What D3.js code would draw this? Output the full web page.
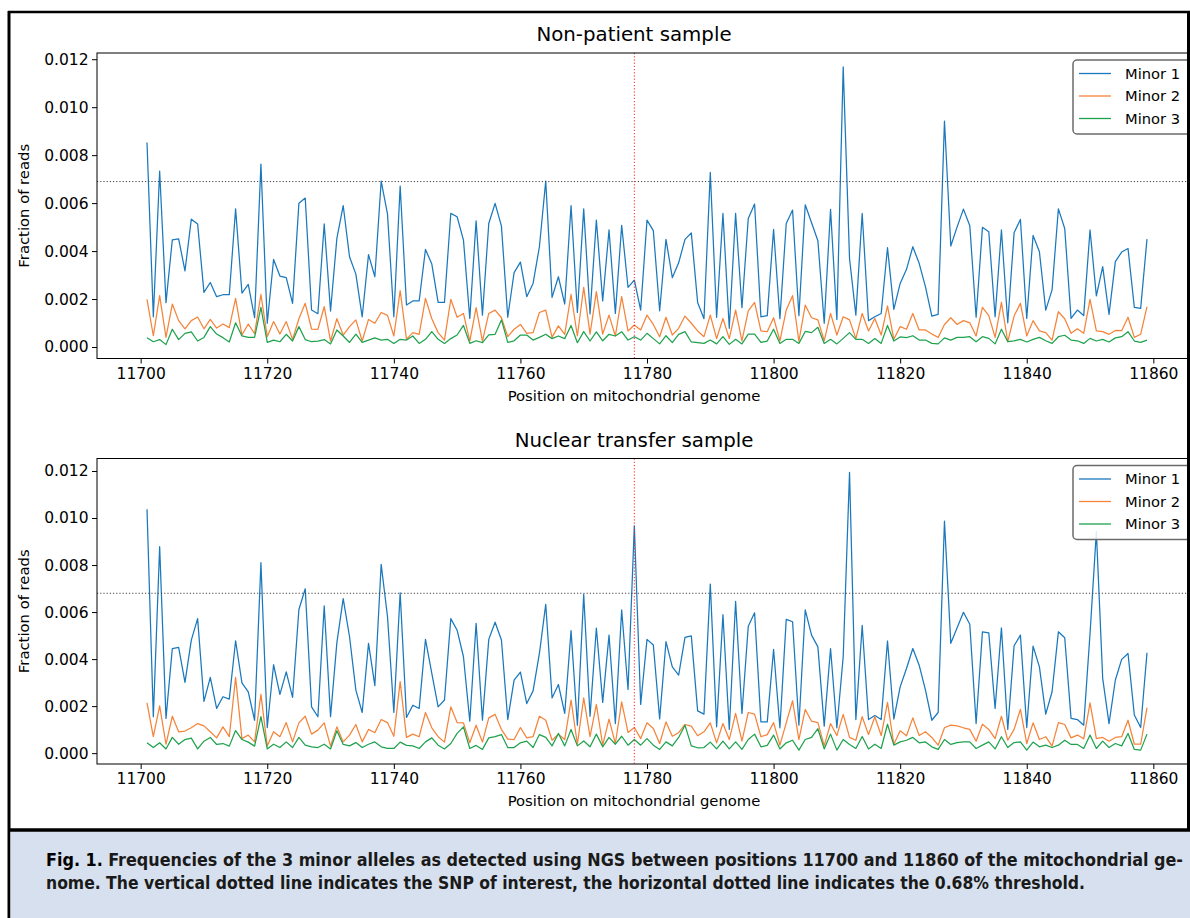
<!DOCTYPE html>
<html><head><meta charset="utf-8">
<script src="https://cdn.jsdelivr.net/npm/d3@7"></script>
<style>body{margin:0;background:#fff}svg{display:block}</style>
</head><body>
<svg id="c" width="1190" height="918"></svg>
<script>
// ---------- DATA (fraction of reads, stored in per-mille: value / 1000) ----------
const firstPosition = 11701, lastPosition = 11859;
const snpPosition = 11778;
const panelTitles = ["Non-patient sample", "Nuclear transfer sample"];
const seriesNames = ["Minor 1", "Minor 2", "Minor 3"];
const thresholdsPerMille = [6.9, 6.8];
const xTickValues = [11700, 11720, 11740, 11760, 11780, 11800, 11820, 11840, 11860];
const yTickValues = [0, 0.002, 0.004, 0.006, 0.008, 0.010, 0.012];

const topMinor1 = [8.53,1.26,7.33,1.85,4.47,4.51,3.17,5.33,5.13,2.28,2.69,2.10,2.18,2.18,5.76,2.25,2.61,1.22,7.63,0.99,3.65,2.96,2.89,1.82,5.99,6.21,1.54,1.39,5.13,1.50,4.53,5.90,3.76,
 3.04,1.26,3.85,2.93,6.92,5.54,1.26,6.71,1.75,1.92,1.92,4.07,3.46,1.86,1.86,5.57,5.43,4.46,1.19,5.26,1.33,5.15,5.99,5.04,1.24,3.10,3.54,2.10,2.65,4.18,6.92,
 2.07,2.93,1.79,5.90,1.44,5.76,1.38,5.29,1.92,4.88,1.40,5.07,2.49,2.79,1.54,5.29,4.85,1.51,4.49,2.89,3.51,4.49,4.76,1.86,1.18,7.28,1.24,5.57,0.78,5.57,1.64,5.36,
 5.96,1.26,1.31,4.90,1.18,5.15,5.71,1.31,5.93,5.18,4.43,0.99,5.74,1.15,11.68,3.69,1.33,5.57,1.10,1.26,1.40,4.14,1.57,2.65,3.24,4.18,3.49,2.51,1.29,1.36,9.42,
 4.21,5.01,5.75,5.06,1.24,4.99,4.81,1.26,4.88,1.01,4.76,5.32,1.19,4.65,3.97,1.54,2.38,5.76,4.94,1.19,1.54,1.31,4.88,2.13,3.35,1.36,3.56,3.96,4.11,1.65,1.61,4.50];
const topMinor2 = [1.99,0.47,2.14,0.40,1.79,1.10,0.76,1.10,1.25,0.76,1.15,0.79,0.96,0.81,2.03,0.50,0.96,0.56,2.19,0.43,1.06,0.54,1.06,0.32,1.18,1.82,0.75,0.74,1.68,0.25,1.18,0.50,0.85,
 1.13,0.25,1.15,0.99,1.44,1.32,0.46,2.35,0.33,0.60,0.53,2.03,1.18,0.60,0.29,1.99,1.24,1.40,0.25,1.64,0.25,1.40,1.54,1.22,0.43,0.74,0.94,0.57,0.60,1.44,1.54,
 0.40,0.88,0.53,2.19,0.46,2.49,0.54,2.31,0.54,1.33,0.46,2.10,0.67,0.92,0.71,1.33,0.94,0.43,1.24,0.50,0.78,1.29,0.99,0.67,0.43,1.33,0.35,1.19,0.35,1.54,0.26,1.51,
 1.86,0.67,0.64,1.22,0.26,1.54,2.14,0.24,1.75,1.22,1.13,0.26,1.40,0.50,1.26,1.13,0.35,1.40,0.67,1.19,0.50,1.72,0.32,0.85,0.74,1.40,0.71,0.71,0.54,0.40,0.94,
 1.22,0.94,1.10,1.01,0.46,1.65,1.31,0.40,1.86,0.22,1.29,1.82,0.46,1.10,0.67,0.60,0.29,1.47,1.18,0.57,0.76,0.57,1.99,0.67,0.64,0.53,0.69,0.68,1.24,0.40,0.53,1.68];
const topMinor3 = [0.39,0.22,0.31,0.10,0.74,0.31,0.57,0.63,0.25,0.40,0.85,0.54,0.39,0.21,1.01,0.46,0.40,0.40,1.65,0.19,0.29,0.22,0.53,0.25,0.85,0.31,0.22,0.25,0.31,0.13,0.71,0.46,0.19,
 0.54,0.19,0.29,0.38,0.29,0.32,0.15,0.32,0.29,0.46,0.15,0.32,0.64,0.32,0.15,0.35,0.50,0.90,0.15,0.26,0.18,0.51,0.53,1.13,0.19,0.26,0.50,0.50,0.29,0.40,0.53,
 0.35,0.46,0.35,0.90,0.18,0.64,0.25,0.63,0.26,0.53,0.46,0.64,0.29,0.43,0.29,0.57,0.35,0.13,0.47,0.18,0.53,0.64,0.21,0.18,0.15,0.29,0.13,0.43,0.11,0.32,0.13,0.54,
 0.54,0.19,0.25,0.74,0.15,0.32,0.32,0.15,0.65,0.60,0.82,0.15,0.32,0.13,0.36,0.60,0.32,0.32,0.15,0.35,0.15,0.90,0.25,0.42,0.39,0.47,0.29,0.29,0.15,0.13,0.38,
 0.29,0.40,0.40,0.43,0.22,0.43,0.36,0.13,0.74,0.22,0.26,0.32,0.21,0.32,0.40,0.26,0.15,0.43,0.49,0.29,0.26,0.15,0.36,0.25,0.32,0.21,0.38,0.43,0.64,0.25,0.19,0.29];

const bottomMinor1 = [10.37,1.55,8.78,1.48,4.45,4.50,3.01,4.81,5.72,2.20,3.22,1.90,2.40,2.30,4.78,2.99,2.61,1.40,8.10,1.09,3.76,2.50,3.46,2.37,6.11,6.99,1.97,1.55,6.26,1.55,4.70,6.57,4.95,
 2.68,1.73,4.67,2.87,8.03,5.80,1.73,6.82,1.52,2.04,1.90,4.84,3.39,1.97,2.26,5.72,5.23,4.10,1.36,5.52,1.40,4.84,5.57,4.81,1.43,3.11,3.45,2.11,2.65,4.24,6.33,
 2.35,2.92,1.69,5.21,1.19,6.75,1.57,5.32,2.16,5.02,1.26,6.09,2.71,9.67,2.07,4.84,4.60,1.46,4.74,3.67,3.32,4.92,4.99,1.80,1.66,7.19,1.12,5.89,1.01,6.45,1.69,5.40,
 5.97,1.33,1.33,4.41,1.08,5.69,5.59,1.19,6.09,5.02,4.52,1.15,4.45,1.08,4.10,11.94,1.43,5.43,1.43,1.60,1.43,4.77,1.45,2.82,3.60,4.45,3.74,2.68,1.40,1.73,9.87,
 4.67,5.33,5.99,5.48,1.26,5.16,5.12,1.90,5.33,1.01,4.57,5.02,1.09,4.55,3.67,1.66,2.61,5.16,4.91,1.48,1.43,1.19,5.09,9.42,3.18,1.26,3.11,3.99,4.24,1.62,1.09,4.27];
const bottomMinor2 = [2.14,0.70,2.01,0.38,1.57,0.91,0.94,1.08,1.26,1.16,0.91,0.65,1.12,0.70,3.22,0.62,0.77,0.48,2.50,0.30,0.91,0.70,1.30,0.48,1.29,1.57,0.81,0.98,1.29,0.30,1.12,0.48,0.77,
 1.22,0.48,1.01,0.87,1.43,1.30,0.72,3.04,0.67,0.81,0.70,1.73,1.08,0.70,0.47,1.97,1.30,1.29,0.44,1.19,0.47,1.50,1.65,1.01,0.60,0.58,1.09,0.65,0.70,1.57,1.40,
 0.55,0.81,0.58,2.26,0.38,2.35,0.70,2.07,0.34,1.45,0.41,2.18,0.88,1.09,0.62,1.29,1.05,0.41,1.33,0.72,0.87,1.22,1.15,0.74,0.91,1.29,0.44,1.26,0.58,1.69,0.51,1.73,
 1.66,0.70,0.79,1.30,0.34,1.29,2.23,0.58,1.86,1.36,1.30,0.31,1.26,0.75,1.65,0.67,0.55,1.55,0.79,1.55,0.75,2.16,0.38,0.95,0.74,1.50,0.75,0.91,0.67,0.34,1.08,
 1.19,1.16,1.08,1.01,0.51,1.23,1.01,0.62,1.57,0.55,1.01,1.86,0.41,1.29,0.58,0.70,0.30,1.30,1.22,0.65,0.77,0.61,2.14,0.62,0.67,0.51,0.67,0.70,1.40,0.38,0.38,1.94];
const bottomMinor3 = [0.44,0.24,0.44,0.18,0.67,0.38,0.58,0.64,0.18,0.51,0.67,0.37,0.41,0.30,0.96,0.58,0.47,0.30,1.55,0.18,0.38,0.24,0.48,0.24,0.67,0.34,0.27,0.24,0.38,0.18,0.95,0.37,0.31,
 0.45,0.24,0.38,0.48,0.27,0.20,0.20,0.47,0.33,0.31,0.20,0.48,0.65,0.34,0.18,0.41,0.84,1.12,0.20,0.33,0.16,0.65,0.70,0.79,0.24,0.24,0.44,0.51,0.24,0.79,0.67,
 0.31,0.84,0.31,1.01,0.31,0.52,0.27,0.81,0.27,0.67,0.38,0.72,0.34,0.58,0.34,0.62,0.34,0.16,0.48,0.31,0.67,1.19,0.31,0.23,0.24,0.47,0.18,0.51,0.18,0.48,0.16,0.58,
 0.81,0.27,0.33,0.77,0.18,0.44,0.55,0.13,0.58,0.67,1.04,0.18,0.81,0.13,0.58,0.37,0.20,0.71,0.18,0.38,0.20,1.23,0.34,0.48,0.55,0.67,0.44,0.48,0.27,0.16,0.58,
 0.37,0.45,0.48,0.48,0.20,0.34,0.48,0.18,0.70,0.24,0.45,0.48,0.13,0.47,0.27,0.34,0.24,0.34,0.55,0.37,0.37,0.20,0.77,0.20,0.51,0.24,0.41,0.31,0.84,0.16,0.13,0.81];

const captionLine1 = "Frequencies of the 3 minor alleles as detected using NGS between positions 11700 and 11860 of the mitochondrial ge-";
const captionLine2 = "nome. The vertical dotted line indicates the SNP of interest, the horizontal dotted line indicates the 0.68% threshold.";

// ---------- STYLE ----------
const colors = ["#1a78bd", "#f5843a", "#1fa24e"];
const FONT = "'DejaVu Sans', sans-serif";
const positions = d3.range(firstPosition, lastPosition + 1);

const svg = d3.select("#c");
svg.append("rect").attr("width", 1190).attr("height", 918).attr("fill", "#fff");

const axLeft = 97, axRight = 1197;
const span = lastPosition - firstPosition;
const x = d3.scaleLinear()
  .domain([firstPosition - 0.05 * span, lastPosition + 0.05 * span])
  .range([axLeft, axRight]);

const panels = [
  {title: panelTitles[0], series: [topMinor1, topMinor2, topMinor3], thr: thresholdsPerMille[0], top: 53, bottom: 358.5, titleY: 41, xLabelY: 401},
  {title: panelTitles[1], series: [bottomMinor1, bottomMinor2, bottomMinor3], thr: thresholdsPerMille[1], top: 458.5, bottom: 764, titleY: 447, xLabelY: 806}
];

panels.forEach((p, pi) => {
  const data = p.series.map(s => s.map((v, i) => ({pos: positions[i], val: v / 1000})));
  const all = data.flat().map(d => d.val);
  const lo = d3.min(all), hi = d3.max(all), pad = 0.05 * (hi - lo);
  const y = d3.scaleLinear().domain([lo - pad, hi + pad]).range([p.bottom, p.top]);

  const g = svg.append("g");
  const clipId = "clip" + pi;
  g.append("clipPath").attr("id", clipId).append("rect")
    .attr("x", axLeft).attr("y", p.top).attr("width", axRight - axLeft).attr("height", p.bottom - p.top);

  const plot = g.append("g").attr("clip-path", `url(#${clipId})`);

  const line = d3.line().x(d => x(d.pos)).y(d => y(d.val));
  data.forEach((s, si) => {
    plot.append("path").datum(s).attr("d", line)
      .attr("fill", "none").attr("stroke", colors[si]).attr("stroke-width", 1.25)
      .attr("stroke-linejoin", "round");
  });

  // threshold
  plot.append("line").attr("x1", axLeft).attr("x2", axRight)
    .attr("y1", y(p.thr / 1000)).attr("y2", y(p.thr / 1000))
    .attr("stroke", "#444").attr("stroke-width", 1).attr("stroke-dasharray", "1.2,2");
  // snp
  plot.append("line").attr("x1", x(snpPosition)).attr("x2", x(snpPosition))
    .attr("y1", p.top).attr("y2", p.bottom)
    .attr("stroke", "#ff2020").attr("stroke-width", 1).attr("stroke-dasharray", "1.2,2");

  // axes
  const xa = g.append("g").attr("transform", `translate(0,${p.bottom})`)
    .call(d3.axisBottom(x).tickValues(xTickValues).tickFormat(d3.format("d")).tickSize(5).tickPadding(4).tickSizeOuter(0));
  const ya = g.append("g").attr("transform", `translate(${axLeft},0)`)
    .call(d3.axisLeft(y).tickValues(yTickValues).tickFormat(d3.format(".3f")).tickSize(5).tickPadding(3.5).tickSizeOuter(0));
  [xa, ya].forEach(a => {
    a.selectAll("text").attr("font-family", FONT).attr("font-size", 15.5).attr("fill", "#000");
    a.selectAll("line").attr("stroke", "#000");
    a.select(".domain").remove();
  });

  // frame
  g.append("rect").attr("x", axLeft).attr("y", p.top).attr("width", axRight - axLeft).attr("height", p.bottom - p.top)
    .attr("fill", "none").attr("stroke", "#000").attr("stroke-width", 1);

  // titles
  g.append("text").attr("x", (axLeft + axRight) / 2 - 13).attr("y", p.titleY).attr("text-anchor", "middle")
    .attr("font-family", FONT).attr("font-size", 19.8).text(p.title);
  g.append("text").attr("x", (axLeft + axRight) / 2 - 13).attr("y", p.xLabelY).attr("text-anchor", "middle")
    .attr("font-family", FONT).attr("font-size", 14.8).text("Position on mitochondrial genome");
  g.append("text").attr("transform", `translate(29,${(p.top + p.bottom) / 2}) rotate(-90)`).attr("text-anchor", "middle")
    .attr("font-family", FONT).attr("font-size", 14.8).text("Fraction of reads");

  // legend
  const lg = g.append("g").attr("transform", `translate(1073,${p.top + 7})`);
  lg.append("rect").attr("width", 130).attr("height", 74).attr("rx", 4)
    .attr("fill", "#fff").attr("fill-opacity", 0.85).attr("stroke", "#6b6b6b").attr("stroke-width", 1.5);
  seriesNames.forEach((n, i) => {
    const yy = 13.5 + i * 22.5;
    lg.append("line").attr("x1", 6).attr("x2", 38).attr("y1", yy).attr("y2", yy)
      .attr("stroke", colors[i]).attr("stroke-width", 1.3);
    lg.append("text").attr("x", 52).attr("y", yy + 5.3).attr("font-family", FONT).attr("font-size", 14.7).text(n);
  });
});

// outer document frame
svg.append("line").attr("x1", 8).attr("x2", 1190).attr("y1", 12).attr("y2", 12).attr("stroke", "#000").attr("stroke-width", 2.5);
svg.append("line").attr("x1", 9).attr("x2", 9).attr("y1", 11).attr("y2", 918).attr("stroke", "#000").attr("stroke-width", 3);
svg.append("line").attr("x1", 1188.5).attr("x2", 1188.5).attr("y1", 11).attr("y2", 830).attr("stroke", "#000").attr("stroke-width", 3);

// caption
svg.append("rect").attr("x", 10.5).attr("y", 831).attr("width", 1180).attr("height", 87).attr("fill", "#d7e0ee");
svg.append("line").attr("x1", 8).attr("x2", 1190).attr("y1", 830).attr("y2", 830).attr("stroke", "#000").attr("stroke-width", 3.5);
const CAPFONT = "'Liberation Sans Narrow','DejaVu Sans Condensed','Arial Narrow',sans-serif";
const cap1 = svg.append("text").attr("x", 46).attr("y", 866).attr("font-family", CAPFONT)
  .attr("font-size", 17.5).attr("font-weight", "bold").attr("fill", "#1a1a1a")
  .attr("textLength", 1137).attr("lengthAdjust", "spacingAndGlyphs");
cap1.append("tspan").attr("font-weight", 900).attr("fill", "#000").text("Fig. 1. ");
cap1.append("tspan").text(captionLine1);
svg.append("text").attr("x", 46).attr("y", 889).attr("font-family", CAPFONT)
  .attr("font-size", 17.5).attr("font-weight", "bold").attr("fill", "#1a1a1a")
  .attr("textLength", 1039).attr("lengthAdjust", "spacingAndGlyphs").text(captionLine2);
</script>
</body></html>
